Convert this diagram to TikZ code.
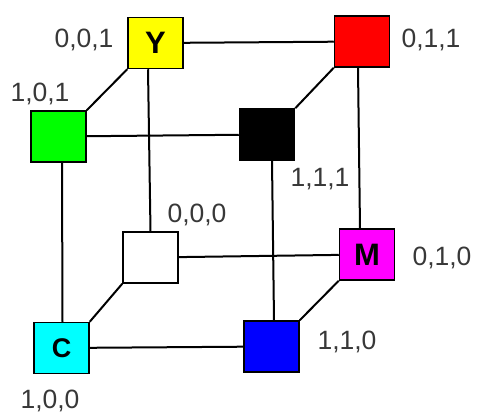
\documentclass[tikz,border=0pt]{standalone}
\usepackage{fontspec}
\setmainfont{Liberation Sans}
\definecolor{cY}{RGB}{255,255,0}
\definecolor{cR}{RGB}{255,0,0}
\definecolor{cG}{RGB}{0,255,0}
\definecolor{cB}{RGB}{0,0,255}
\definecolor{cM}{RGB}{255,0,255}
\definecolor{cC}{RGB}{0,255,255}
\begin{document}
\begin{tikzpicture}[x=1pt,y=-1pt,
  box/.style={draw=black,line width=1.5pt,minimum width=55pt,minimum height=51pt,inner sep=0pt},
  lbl/.style={anchor=base,inner sep=0pt,text=black!78,font=\fontsize{26.5}{26.5}\selectfont},
  letter/.style={font=\bfseries\fontsize{31}{31}\selectfont},
  edge/.style={line width=2pt,black}]
\useasboundingbox (0,0) rectangle (477,415);
\node[box,fill=cY,letter] (Y) at (155.5,43) {Y};
\node[box,fill=cR] (R) at (362,41.5) {};
\node[box,fill=cG] (G) at (58.5,136.5) {};
\node[box,fill=black] (K) at (267,134.5) {};
\node[box,fill=white] (W) at (150.5,257.5) {};
\node[box,fill=cM,letter] (M) at (367,254.5) {M};
\node[box,fill=cC,font=\bfseries\fontsize{27}{27}\selectfont] (C) at (61.5,348) {C};
\node[box,fill=cB] (B) at (271.5,346.5) {};
\draw[edge] (Y) -- (R);
\draw[edge] (G) -- (K);
\draw[edge] (W) -- (M);
\draw[edge] (C) -- (B);
\draw[edge] (Y.south west) -- (G.north east);
\draw[edge] (R.south west) -- (K.north east);
\draw[edge] (W.south west) -- (C.north east);
\draw[edge] (M.south west) -- (B.north east);
\draw[edge] ([xshift=-7.5pt]Y.south) -- (W.north);
\draw[edge] ([xshift=3.5pt]G.south) -- ([xshift=1pt]C.north);
\draw[edge] ([xshift=5pt]K.south) -- ([xshift=2.5pt]B.north);
\draw[edge] ([xshift=-4pt]R.south) -- ([xshift=-7pt]M.north);
\node[lbl] (l001) at (84,47) {0,0,1};
\node[lbl] (l101) at (40,101) {1,0,1};
\node[lbl] (l011) at (431,47) {0,1,1};
\node[lbl] (l111) at (320,186) {1,1,1};
\node[lbl] (l000) at (197,222) {0,0,0};
\node[lbl] (l010) at (442,265) {0,1,0};
\node[lbl] (l110) at (347,349) {1,1,0};
\node[lbl] (l100) at (50,408) {1,0,0};
\end{tikzpicture}
\end{document}
